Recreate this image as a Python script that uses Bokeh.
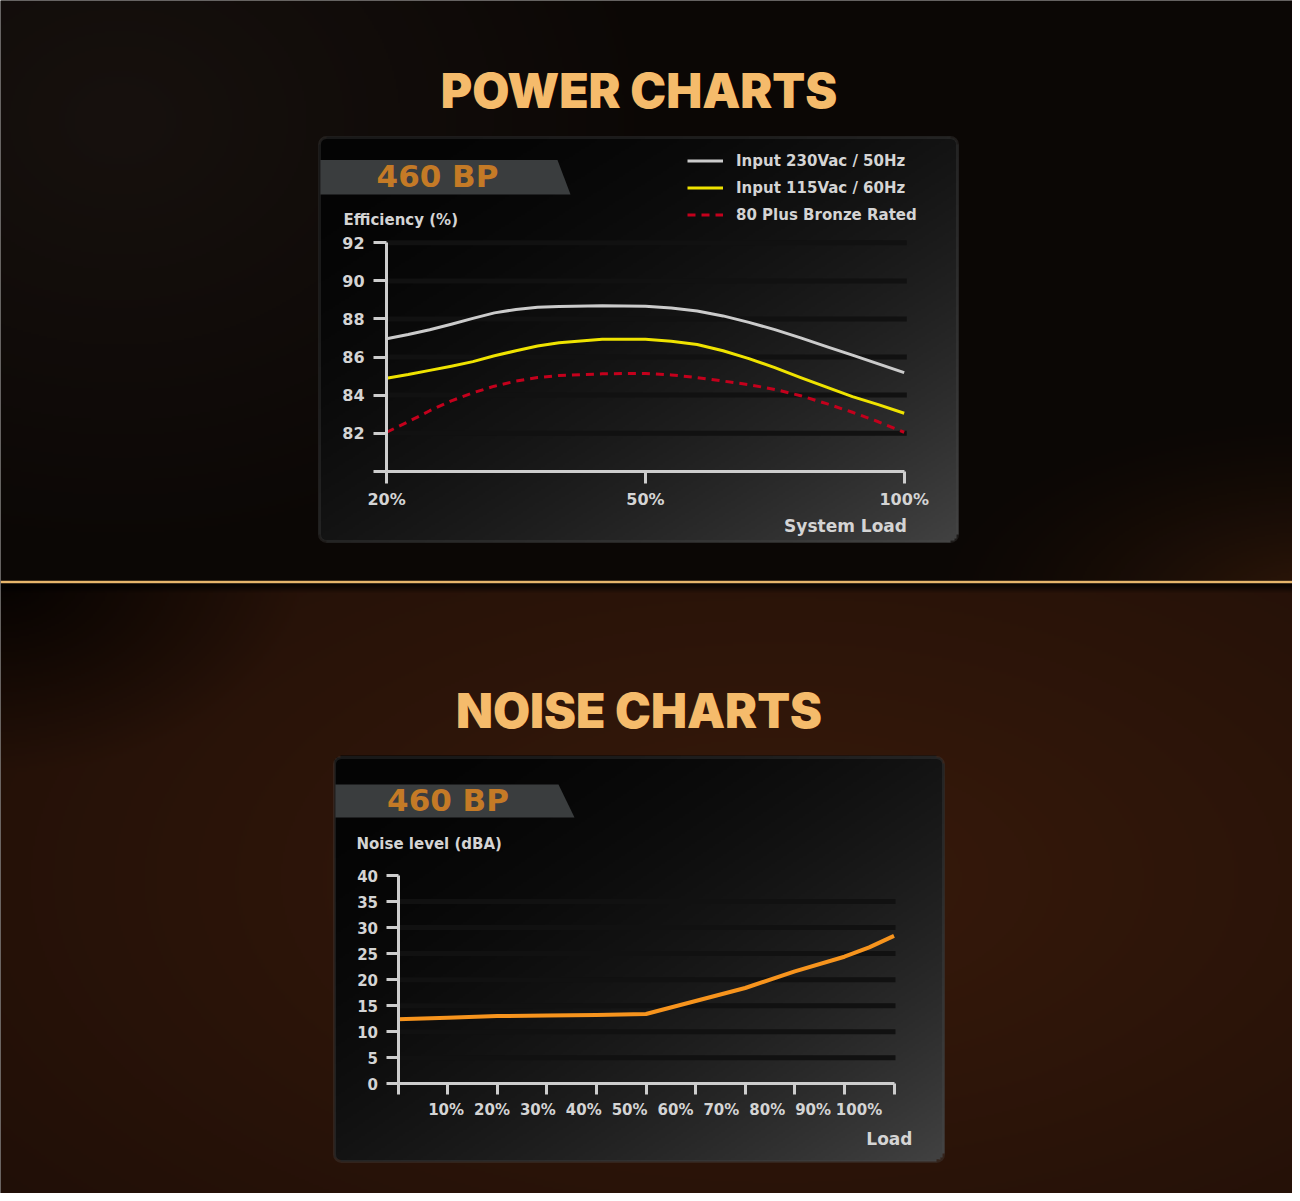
import numpy as np
from bokeh.plotting import figure
from bokeh.models import (Range1d, LinearAxis, FixedTicker, Legend, LegendItem,
                          BoxAnnotation)
from bokeh.core.properties import value
from bokeh.embed import file_html
from bokeh.resources import INLINE

# ---------------- data ----------------
power_load = [20, 22.5, 25, 27.5, 30, 32.5, 35, 37.5, 40, 45, 50, 55, 60, 65, 70, 75, 80, 85, 90, 95, 100]
eff_230 = [86.96, 87.18, 87.43, 87.72, 88.03, 88.32, 88.50, 88.61, 88.65, 88.69, 88.67,
           88.58, 88.42, 88.16, 87.82, 87.44, 87.01, 86.55, 86.10, 85.64, 85.18]
eff_115 = [84.89, 85.08, 85.30, 85.52, 85.76, 86.07, 86.33, 86.58, 86.75, 86.93, 86.93,
           86.83, 86.66, 86.33, 85.92, 85.44, 84.92, 84.42, 83.92, 83.50, 83.05]
eff_bronze = [82.05, 82.60, 83.18, 83.70, 84.12, 84.47, 84.74, 84.92, 85.03, 85.12, 85.14,
              85.06, 84.92, 84.74, 84.55, 84.30, 83.97, 83.55, 83.10, 82.60, 82.05]
power_tick_loads = [20, 50, 100]
power_tick_labels = ["20%", "50%", "100%"]
eff_ticks = [80, 82, 84, 86, 88, 90, 92]
series_names = ["Input 230Vac / 50Hz", "Input 115Vac / 60Hz", "80 Plus Bronze Rated"]

noise_load = [0, 10, 20, 30, 40, 50, 60, 70, 80, 90, 95, 100]
noise_dba = [12.4, 12.7, 13.0, 13.1, 13.2, 13.4, 15.9, 18.4, 21.6, 24.4, 26.2, 28.4]
noise_ticks_x = [0, 10, 20, 30, 40, 50, 60, 70, 80, 90, 100]
noise_tick_labels = ["10%", "20%", "30%", "40%", "50%", "60%", "70%", "80%", "90%", "100%"]
noise_ticks_y = [0, 5, 10, 15, 20, 25, 30, 35, 40]

# ---------------- page geometry ----------------
PW, PH = 1300, 1201          # reference page size
FL, FR, FT, FB = 0, 1292, 0, 1193   # frame edges in page pixels


def Y(py):
    return PH - py


def lin_range(p0, v0, p1, v1, lo, hi):
    k = (v1 - v0) / (p1 - p0)
    return Range1d(start=v0 + (lo - p0) * k, end=v0 + (hi - p0) * k)


p = figure(width=FR - FL, height=FB - FT,
           x_range=Range1d(FL, FR), y_range=Range1d(Y(FB), Y(FT)),
           x_axis_type=None, y_axis_type=None,
           output_backend="svg", toolbar_location=None, min_border=0)
p.outline_line_color = None
p.background_fill_color = "#0b0705"
p.border_fill_color = "#0b0705"

p.extra_x_ranges = {
    "pwx": lin_range(386.1, 0, 903.7, 2, FL, FR),
    "nzx": lin_range(397.5, 0, 893.5, 100, FL, FR),
}
p.extra_y_ranges = {
    "pwy": lin_range(242.3, 92, 432.7, 82, FB, FT),
    "nzy": lin_range(1083.3, 0, 875.0, 40, FB, FT),
}

# ---------------- background picture ----------------
S = 2
gy, gx = np.mgrid[0:PH:S, 0:PW:S].astype(float)
gy += S / 2
gx += S / 2

glow_br = np.clip(1 - np.hypot((gx - 1320) / 420, (gy - 600) / 200), 0, 1) ** 1.6
glow_tl = np.clip(1 - np.hypot((gx - 120) / 560, (gy - 120) / 450), 0, 1)
top = np.array([11., 7., 5.]) + glow_br[..., None] * [36, 16, 3] + glow_tl[..., None] * [12, 10, 9]

bot_c = np.clip(1 - np.hypot((gx - 780) / 1000, (gy - 880) / 520), 0, 1)
bot = np.array([32., 15., 7.]) + bot_c[..., None] * [24, 11, 4]
corner = np.clip(np.hypot(gx / 300, (gy - 583) / 190), 0, 1)
bot = bot * (0.2 + 0.8 * corner)[..., None]
shadow = np.clip((gy - 583) / 10, 0, 1)
bot = bot * (0.15 + 0.85 * shadow)[..., None]

rgb = np.where((gy < 581)[..., None], top, bot)


def paint_panel(x0, y0, x1, y1, r=7):
    cx = np.clip(gx, x0 + r, x1 - r)
    cy = np.clip(gy, y0 + r, y1 - r)
    inside = (gx >= x0) & (gx <= x1) & (gy >= y0) & (gy <= y1) & (np.hypot(gx - cx, gy - cy) <= r)
    t = np.clip(((gx - x0) / (x1 - x0) + (gy - y0) / (y1 - y0)) / 2, 0, 1)
    c = 4 + 62 * t ** 2
    rgb[inside] = np.stack([c, c, c], axis=-1)[inside]


PANELS = [(319, 137, 957, 541), (334, 757, 943, 1161)]
for pan in PANELS:
    paint_panel(*pan)

rgba = np.concatenate([rgb, np.full(gy.shape + (1,), 255.0)], axis=-1)
rgba = np.ascontiguousarray(np.flipud(np.clip(rgba, 0, 255)).astype(np.uint8))
img = rgba.view(np.uint32).reshape(rgba.shape[0], rgba.shape[1])
p.image_rgba(image=[img], x=0, y=0, dw=PW, dh=PH)

# separator line
p.segment(x0=[0], x1=[PW], y0=[Y(581.5)], y1=[Y(581.5)], line_color="#e6b56b", line_width=2.5)

# panel borders
for (x0, y0, x1, y1) in PANELS:
    p.add_layout(BoxAnnotation(left=x0, right=x1, top=Y(y0), bottom=Y(y1),
                               fill_alpha=0, line_color="#4b4b4b", line_width=3,
                               border_radius=7))

# model bands
p.patch(x=[320, 557, 570, 320], y=[Y(159.5), Y(159.5), Y(194), Y(194)],
        fill_color="#3a3d3e", line_color=None)
p.patch(x=[335, 558, 574, 335], y=[Y(784), Y(784), Y(817), Y(817)],
        fill_color="#3a3d3e", line_color=None)

TXT = "#d4d4d4"
FONT = value("DejaVu Sans")

# titles
p.text(x=[638.5, 638.5], y=[Y(90), Y(710)], text=["POWER CHARTS", "NOISE CHARTS"],
       text_font=value("Inter Black, Inter"), text_font_style="bold", text_font_size="48px",
       text_color="#f5bb6b", text_align="center", text_baseline="middle")
p.text(x=[437, 447.5], y=[Y(175.5), Y(799.5)], text=["460 BP", "460 BP"],
       text_font=FONT, text_font_style="bold", text_font_size="31px",
       text_color="#c47a26", text_align="center", text_baseline="middle")

# axis titles
p.text(x=[343, 356], y=[Y(219), Y(843)], text=["Efficiency (%)", "Noise level (dBA)"],
       text_font=FONT, text_font_style="bold", text_font_size="15px",
       text_color=TXT, text_align="left", text_baseline="middle")
p.text(x=[906.5, 912], y=[Y(525.5), Y(1138)], text=["System Load", "Load"],
       text_font=FONT, text_font_style="bold", text_font_size="17px",
       text_color=TXT, text_align="right", text_baseline="middle")

# ---------------- power chart ----------------
pw = dict(x_range_name="pwx", y_range_name="pwy")
pos = np.interp(power_load, power_tick_loads, [0, 1, 2])
grid_eff = [t for t in eff_ticks if t > eff_ticks[0]]
p.segment(x0=[0] * len(grid_eff), x1=[2.01] * len(grid_eff), y0=grid_eff, y1=grid_eff,
          line_color="#111111", line_width=5, **pw)

r230 = p.line(pos, eff_230, line_color="#cbcbcb", line_width=3, line_join="round", **pw)
r115 = p.line(pos, eff_115, line_color="#efe300", line_width=3, line_join="round", **pw)
rbr = p.line(pos, eff_bronze, line_color="#c4001c", line_width=3, line_dash="8 6",
             line_join="round", **pw)

AX = "#cdcdcd"


def style_axis(ax, tick_out, standoff, size):
    ax.axis_line_color = AX
    ax.axis_line_width = 3
    ax.major_tick_line_color = AX
    ax.major_tick_line_width = 3
    ax.major_tick_out = tick_out
    ax.major_tick_in = 0
    ax.minor_tick_line_color = None
    ax.major_label_standoff = standoff
    ax.major_label_text_font = "DejaVu Sans"
    ax.major_label_text_font_style = "bold"
    ax.major_label_text_font_size = size
    ax.major_label_text_color = TXT


pya = LinearAxis(fixed_location=0, ticker=FixedTicker(ticks=eff_ticks),
                 bounds=(eff_ticks[0], eff_ticks[-1]),
                 major_label_overrides={eff_ticks[0]: ""}, **pw)
style_axis(pya, 13, 9, "16px")
p.add_layout(pya, "left")

pxa = LinearAxis(fixed_location=eff_ticks[0], ticker=FixedTicker(ticks=[0, 1, 2]),
                 bounds=(0, 2),
                 major_label_overrides={i: lab for i, lab in enumerate(power_tick_labels)}, **pw)
style_axis(pxa, 12, 7, "16px")
p.add_layout(pxa, "below")

legend = Legend(items=[LegendItem(label=series_names[0], renderers=[r230]),
                       LegendItem(label=series_names[1], renderers=[r115]),
                       LegendItem(label=series_names[2], renderers=[rbr])],
                location=(687 - FL, FB - 225), orientation="vertical",
                padding=0, margin=0, spacing=6, label_height=21, glyph_height=21,
                glyph_width=36, label_standoff=13,
                label_text_font="DejaVu Sans", label_text_font_style="bold",
                label_text_font_size="15px", label_text_color=TXT,
                background_fill_alpha=0, border_line_color=None)
p.add_layout(legend)

# ---------------- noise chart ----------------
nz = dict(x_range_name="nzx", y_range_name="nzy")
grid_nz = [t for t in noise_ticks_y if noise_ticks_y[0] < t < noise_ticks_y[-1]]
p.segment(x0=[0] * len(grid_nz), x1=[100.3] * len(grid_nz), y0=grid_nz, y1=grid_nz,
          line_color="#111111", line_width=5, **nz)
p.line(noise_load, noise_dba, line_color="#f7941d", line_width=4, line_join="round", **nz)

nya = LinearAxis(fixed_location=0, ticker=FixedTicker(ticks=noise_ticks_y),
                 bounds=(noise_ticks_y[0], noise_ticks_y[-1]), **nz)
style_axis(nya, 12, 8, "15px")
p.add_layout(nya, "left")

nxa = LinearAxis(fixed_location=0, ticker=FixedTicker(ticks=noise_ticks_x),
                 bounds=(noise_ticks_x[0], noise_ticks_x[-1]),
                 major_label_overrides={t: "" for t in noise_ticks_x}, **nz)
style_axis(nxa, 11, 6, "15px")
p.add_layout(nxa, "below")

# tick labels (set slightly tighter than the tick marks, as in the source chart)
label_pos = [round(9.7 + 9.25 * i, 2) for i in range(len(noise_tick_labels))]
nxl = LinearAxis(fixed_location=0, ticker=FixedTicker(ticks=label_pos),
                 major_label_overrides=dict(zip(label_pos, noise_tick_labels)), **nz)
style_axis(nxl, 11, 6, "15px")
nxl.axis_line_color = None
nxl.major_tick_line_color = None
p.add_layout(nxl, "below")

open("out.html", "w").write(file_html(p, INLINE))
